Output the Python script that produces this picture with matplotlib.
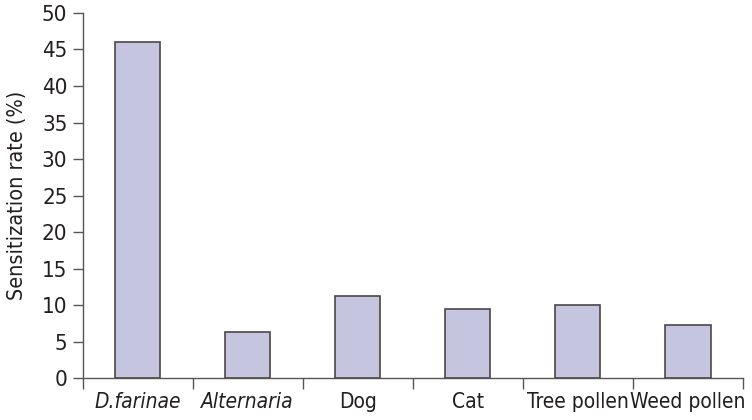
import numpy as np
import matplotlib.pyplot as plt

categories = ['D.farinae', 'Alternaria', 'Dog', 'Cat', 'Tree pollen', 'Weed pollen']
rates = [46.0, 6.3, 11.2, 9.5, 10.0, 7.3]
italic = [True, True, False, False, False, False]

plt.rcParams['font.family'] = ['DejaVu Sans']
plt.rcParams['font.stretch'] = 'condensed'

fig = plt.figure(figsize=(7.52, 4.2), dpi=100)
ax = fig.add_axes([0.110, 0.0993, 0.878, 0.870])

x = np.arange(len(categories))
ax.bar(x, rates, width=0.41, color='#c6c5df', edgecolor='#4d4545', linewidth=1.2, zorder=3)

ax.set_xlim(-0.5, len(categories) - 0.5)
ax.set_ylim(0, 50)
ax.set_yticks(np.arange(0, 51, 5))

# category labels centred, tick marks between categories
ax.set_xticks(x)
ax.set_xticklabels(categories, fontsize=15)
ax.tick_params(axis='x', which='major', length=0, pad=10)
ax.set_xticks(np.arange(-0.5, len(categories)), minor=True)
ax.tick_params(axis='x', which='minor', length=8, width=1, color='#555555')
for lbl, it in zip(ax.get_xticklabels(), italic):
    if it:
        lbl.set_fontstyle('italic')

ax.tick_params(axis='y', length=7, width=1, color='#555555', pad=4, labelsize=16)
ax.tick_params(labelcolor='#231f20')

for side in ['top', 'right']:
    ax.spines[side].set_visible(False)
for side in ['left', 'bottom']:
    ax.spines[side].set_color('#555555')
    ax.spines[side].set_linewidth(1)

ax.set_ylabel('Sensitization rate (%)', fontsize=15.5, color='#231f20', labelpad=11)

fig.savefig('out.png', dpi=100)
